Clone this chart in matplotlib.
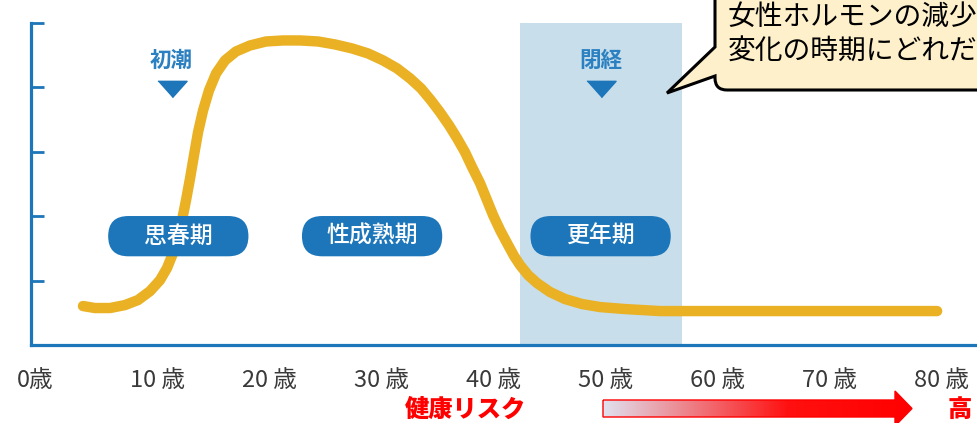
import numpy as np
import matplotlib
matplotlib.use("Agg")
import matplotlib.pyplot as plt
import matplotlib.transforms as mtransforms
from matplotlib.patches import FancyBboxPatch, PathPatch, Polygon
from matplotlib.path import Path
from matplotlib.colors import LinearSegmentedColormap

plt.rcParams['font.family'] = ['Noto Sans CJK JP', 'DejaVu Sans']

###############################################################################
# Data
ages = [3.39, 4.46, 5.80, 7.14, 8.30, 9.38, 10.27, 10.89, 11.43, 11.88,
        12.23, 12.59, 12.95, 13.30, 13.66, 14.11, 14.64, 15.27, 16.07,
        17.05, 18.30, 19.73, 21.25, 22.77, 24.38, 25.89, 27.41, 28.84,
        30.18, 31.43, 32.59, 33.57, 34.46, 35.27, 36.07, 36.79, 37.50,
        38.13, 38.84, 39.46, 40.00, 40.63, 41.25, 41.88, 42.41, 43.13,
        43.93, 45.09, 46.43, 47.95, 49.55, 51.79, 54.91, 60.27, 67.41,
        73.66, 79.64]
hormone = [0.605, 0.574, 0.574, 0.620, 0.698, 0.837, 1.008, 1.194, 1.426,
           1.674, 1.938, 2.248, 2.589, 2.946, 3.302, 3.643, 3.953, 4.217,
           4.419, 4.558, 4.651, 4.713, 4.729, 4.729, 4.713, 4.667, 4.605,
           4.527, 4.419, 4.295, 4.140, 3.984, 3.798, 3.612, 3.411, 3.209,
           2.992, 2.760, 2.512, 2.248, 2.016, 1.783, 1.581, 1.380, 1.240,
           1.085, 0.961, 0.822, 0.713, 0.636, 0.589, 0.558, 0.527, 0.527,
           0.527, 0.527, 0.527]

age_ticks = [0, 10, 20, 30, 40, 50, 60, 70, 80]
age_labels = ['0歳', '10 歳', '20 歳', '30 歳', '40 歳', '50 歳', '60 歳',
              '70 歳', '80 歳']
level_ticks = [1, 2, 3, 4, 5]

menopause_span = (42.4, 56.9)

stage_names = ['思春期', '性成熟期', '更年期']
stage_ages = [11.9, 29.2, 49.6]
stage_level = 1.69

event_names = ['初潮', '閉経']
event_ages = [11.3, 49.6]

callout_lines = ['女性ホルモンの減少', '変化の時期にどれだ']
risk_label = '健康リスク'
risk_high = '高'

###############################################################################
# Colors
blue = '#1c76b9'
gold = '#e9b123'
band_col = '#c8deeb'

W, H = 977, 423
fig = plt.figure(figsize=(W / 100, H / 100), dpi=100)

# main chart area
ax = fig.add_axes([31 / W, (H - 345) / H, (W - 31) / W, (345 - 23) / H])
ax.set_xlim(-1.25, 83.2)
ax.set_ylim(0, 5)
ax.patch.set_alpha(0)
for s in ['top', 'right']:
    ax.spines[s].set_visible(False)
for s in ['left', 'bottom']:
    ax.spines[s].set_color(blue)
    ax.spines[s].set_linewidth(2.3)

ax.set_yticks(level_ticks)
ax.set_yticklabels([])
ax.tick_params(axis='y', direction='in', length=9.5, width=2.0, color=blue)
ax.set_xticks(age_ticks)
ax.set_xticklabels(age_labels, fontsize=17, color='#3a3a3a')
ax.tick_params(axis='x', length=0, pad=17)
# the "0歳" label sits a bit left of its tick in the original
lab0 = ax.get_xticklabels()[0]
lab0.set_transform(lab0.get_transform() +
                   mtransforms.ScaledTranslation(-0.1, 0, fig.dpi_scale_trans))

# menopause band
ax.axvspan(menopause_span[0], menopause_span[1], color=band_col, lw=0,
           zorder=0)

# hormone curve
ax.plot(ages, hormone, color=gold, lw=7.5, solid_capstyle='round',
        solid_joinstyle='round', zorder=3)

# stage pills (sized in points, placed in data coords)
pw, ph = 101, 29
for name, a in zip(stage_names, stage_ages):
    tr = (mtransforms.Affine2D().scale(1 / 72.) + fig.dpi_scale_trans +
          mtransforms.ScaledTranslation(a, stage_level, ax.transData))
    pill = FancyBboxPatch((-pw / 2, -ph / 2), pw, ph,
                          boxstyle='round,pad=0,rounding_size=%g' % (ph / 2),
                          transform=tr, fc=blue, ec='none', zorder=4)
    ax.add_patch(pill)
    ax.text(a, stage_level, name, ha='center', va='center', color='white',
            fontsize=16.5, fontweight='medium', zorder=5)

# event markers
tri = [(-1, 0.56), (1, 0.56), (0, -0.56)]
ax.plot(event_ages, [3.98] * len(event_ages), ls='none', marker=tri, ms=21,
        color=blue, zorder=4)
for name, a in zip(event_names, event_ages):
    ax.text(a, 4.42, name, ha='center', va='center', color='#2a80c0',
            fontsize=15.5, fontweight='bold', zorder=4)

###############################################################################
# overlay in pixel units for the callout and the risk arrow
ov = fig.add_axes([0, 0, 1, 1], zorder=10)
ov.axis('off')
ov.patch.set_alpha(0)

verts = [(715, -30), (715, 47), (667, 93), (715, 76), (715, 78),
         (715, 90), (727, 90), (1010, 90), (1010, -30), (715, -30)]
codes = [Path.MOVETO, Path.LINETO, Path.LINETO, Path.LINETO, Path.LINETO,
         Path.CURVE3, Path.CURVE3, Path.LINETO, Path.LINETO, Path.CLOSEPOLY]
ov.add_patch(PathPatch(Path(verts, codes), fc='#fdf0ca', ec='black', lw=2.2,
                       joinstyle='miter'))
ov.text(728, 17, callout_lines[0], ha='left', va='center', fontsize=20,
        color='black')
ov.text(728, 51, callout_lines[1], ha='left', va='center', fontsize=20,
        color='black')

# gradient arrow
arrow_pts = [(603, 400), (895, 400), (895, 391), (912, 408.5), (895, 426),
             (895, 417), (603, 417)]
arrow = Polygon(arrow_pts, closed=True, fc='none', ec='#ff0000', lw=1.0)
ov.add_patch(arrow)
cmap = LinearSegmentedColormap.from_list(
    'risk', [(0, '#dfe1ef'), (0.6, '#ff1010'), (1, '#ff0000')])
grad = np.linspace(0, 1, 256).reshape(1, -1)
im = ov.imshow(grad, cmap=cmap, extent=(603, 912, 426, 391), aspect='auto',
               interpolation='bilinear')
im.set_clip_path(arrow)
ov.set_xlim(0, W)
ov.set_ylim(H, 0)

ov.text(405, 410, risk_label, ha='left', va='center', fontsize=17.5,
        fontweight='heavy', color='#ff0000')
ov.text(948, 410, risk_high, ha='left', va='center', fontsize=17.5,
        fontweight='heavy', color='#ff0000')

fig.savefig('out.png', dpi=100)
